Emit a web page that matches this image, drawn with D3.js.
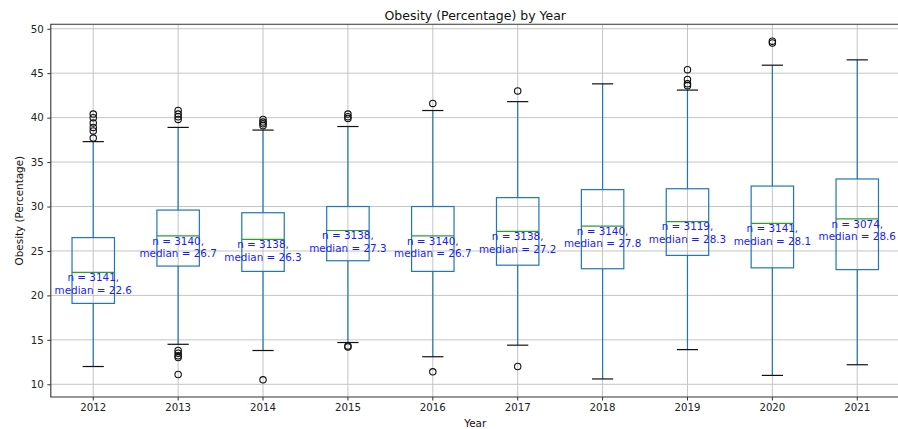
<!DOCTYPE html>
<html>
<head>
<meta charset="utf-8">
<script src="https://cdn.jsdelivr.net/npm/d3@7"></script>
<style>
  html, body { margin: 0; padding: 0; background: #fff; }
  svg { display: block; font-family: "DejaVu Sans", sans-serif; }
</style>
</head>
<body>
<svg id="chart" width="898" height="429"></svg>
<script>
// Summary statistics of county obesity rates, one box per year
const years = [2012, 2013, 2014, 2015, 2016, 2017, 2018, 2019, 2020, 2021];
const counts = [3141, 3140, 3138, 3138, 3140, 3138, 3140, 3119, 3141, 3074];
const medians = [22.6, 26.7, 26.3, 27.3, 26.7, 27.2, 27.8, 28.3, 28.1, 28.6];
const q1 = [19.1, 23.3, 22.7, 23.9, 22.7, 23.4, 23.0, 24.5, 23.1, 22.9];
const q3 = [26.5, 29.6, 29.3, 30.0, 30.0, 31.0, 31.9, 32.0, 32.3, 33.1];
const whiskerLow = [12.0, 14.5, 13.8, 14.7, 13.1, 14.4, 10.6, 13.9, 11.0, 12.2];
const whiskerHigh = [37.3, 38.9, 38.6, 39.0, 40.8, 41.8, 43.8, 43.1, 45.9, 46.5];
const outliers = [
  [40.4, 40.0, 39.4, 38.9, 38.5, 37.7],
  [40.8, 40.4, 40.1, 39.8, 13.8, 13.5, 13.2, 13.0, 11.1],
  [39.8, 39.5, 39.3, 39.1, 10.5],
  [40.4, 40.1, 39.9, 14.3, 14.2],
  [41.6, 11.4],
  [43.0, 12.0],
  [],
  [45.4, 44.3, 43.8, 43.6],
  [48.6, 48.4],
  []
];
const yTicks = [10, 15, 20, 25, 30, 35, 40, 45, 50];

const svg = d3.select("#chart");
const plot = { left: 50.8, right: 899.7, top: 24.3, bottom: 397 };

const x = d3.scaleBand().domain(years).range([plot.left, plot.right]).paddingInner(0).paddingOuter(0);
const y = d3.scaleLinear().domain([8.57, 50.5]).range([plot.bottom, plot.top]);
const cx = yr => x(yr) + x.bandwidth() / 2;
const boxW = x.bandwidth() * 0.5;
const capW = boxW * 0.5;

const rows = years.map((yr, i) => ({
  year: yr, n: counts[i], med: medians[i], q1: q1[i], q3: q3[i],
  lo: whiskerLow[i], hi: whiskerHigh[i], out: outliers[i]
}));

// grid
const grid = svg.append("g").attr("stroke", "#c4c4c4").attr("stroke-width", 1);
grid.selectAll("line.h").data(yTicks).join("line")
  .attr("x1", plot.left).attr("x2", plot.right)
  .attr("y1", d => y(d)).attr("y2", d => y(d));
grid.selectAll("line.v").data(years).join("line")
  .attr("x1", d => cx(d)).attr("x2", d => cx(d))
  .attr("y1", plot.top).attr("y2", plot.bottom);

// axes
const yAxis = d3.axisLeft(y).tickValues(yTicks).tickSize(3.5).tickPadding(3.5);
const xAxis = d3.axisBottom(x).tickSize(3.5).tickPadding(3.5);
svg.append("g").attr("transform", `translate(${plot.left},0)`).call(yAxis)
  .call(g => g.select(".domain").remove());
svg.append("g").attr("transform", `translate(0,${plot.bottom})`).call(xAxis)
  .call(g => g.select(".domain").remove());
svg.selectAll(".tick text").attr("font-size", 10.2).attr("fill", "#222")
  .attr("font-family", "DejaVu Sans");
svg.selectAll(".tick line").attr("stroke", "#333").attr("stroke-width", 1);

// boxes
const lw = 1.2;
const box = svg.append("g").selectAll("g").data(rows).join("g");
box.append("line").attr("stroke", "#1f77b4").attr("stroke-width", lw)
  .attr("x1", d => cx(d.year)).attr("x2", d => cx(d.year))
  .attr("y1", d => y(d.q3)).attr("y2", d => y(d.hi));
box.append("line").attr("stroke", "#1f77b4").attr("stroke-width", lw)
  .attr("x1", d => cx(d.year)).attr("x2", d => cx(d.year))
  .attr("y1", d => y(d.q1)).attr("y2", d => y(d.lo));
box.append("rect").attr("fill", "none").attr("stroke", "#1f77b4").attr("stroke-width", lw)
  .attr("x", d => cx(d.year) - boxW / 2).attr("width", boxW)
  .attr("y", d => y(d.q3)).attr("height", d => y(d.q1) - y(d.q3));
box.append("line").attr("stroke", "#2ca02c").attr("stroke-width", lw)
  .attr("x1", d => cx(d.year) - boxW / 2).attr("x2", d => cx(d.year) + boxW / 2)
  .attr("y1", d => y(d.med)).attr("y2", d => y(d.med));
["hi", "lo"].forEach(k => {
  box.append("line").attr("stroke", "#111").attr("stroke-width", lw)
    .attr("x1", d => cx(d.year) - capW / 2).attr("x2", d => cx(d.year) + capW / 2)
    .attr("y1", d => y(d[k])).attr("y2", d => y(d[k]));
});
box.selectAll("circle").data(d => d.out.map(v => ({ year: d.year, v }))).join("circle")
  .attr("cx", d => cx(d.year)).attr("cy", d => y(d.v)).attr("r", 3.2)
  .attr("fill", "none").attr("stroke", "#111").attr("stroke-width", 1.1);

// count / median annotations
const ann = box.append("text").attr("fill", "#1a1aff").attr("font-size", 10.4)
  .attr("text-anchor", "middle");
ann.append("tspan").attr("x", d => cx(d.year)).attr("y", d => y(d.med) + 8.8)
  .text(d => `n = ${d.n},`);
ann.append("tspan").attr("x", d => cx(d.year)).attr("dy", "1.2em")
  .text(d => `median = ${d.med.toFixed(1)}`);

// spines
svg.append("path").attr("fill", "none").attr("stroke", "#333").attr("stroke-width", 1.1)
  .attr("d", `M${plot.right},${plot.top}H${plot.left}V${plot.bottom}H${plot.right}`);

// titles
svg.append("text").attr("x", (plot.left + plot.right) / 2).attr("y", 19.5)
  .attr("text-anchor", "middle").attr("font-size", 12.5).attr("fill", "#111")
  .text("Obesity (Percentage) by Year");
svg.append("text").attr("x", (plot.left + plot.right) / 2).attr("y", 427)
  .attr("text-anchor", "middle").attr("font-size", 10.4).attr("fill", "#111")
  .text("Year");
svg.append("text")
  .attr("transform", `translate(22.5,${(plot.top + plot.bottom) / 2}) rotate(-90)`)
  .attr("text-anchor", "middle").attr("font-size", 10.4).attr("fill", "#111")
  .text("Obesity (Percentage)");
</script>
</body>
</html>
